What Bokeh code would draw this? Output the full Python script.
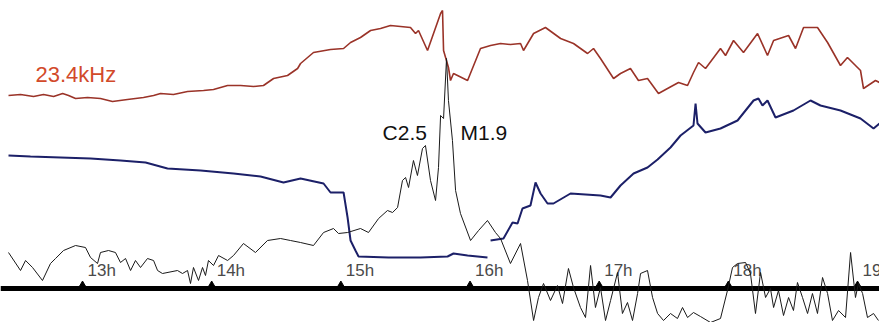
import numpy as np
from bokeh.plotting import figure
from bokeh.models import Range1d, Span
from bokeh.core.properties import value
from bokeh.embed import file_html
from bokeh.resources import INLINE

# ---- data (time in decimal hours UT, signal level in chart units, inverted scale) ----
tick_hours = [13, 14, 15, 16, 17, 18, 19]
tick_labels = ["13h", "14h", "15h", "16h", "17h", "18h", "19h"]

station_label = "23.4kHz"
flare_labels = ["C2.5", "M1.9"]

red_t = [12.427, 12.520, 12.621, 12.698, 12.776, 12.846, 12.892, 12.946, 13.039, 13.139,
         13.232, 13.348, 13.472, 13.550, 13.604, 13.704, 13.813, 13.937, 14.014, 14.123,
         14.224, 14.324, 14.401, 14.479, 14.587, 14.665, 14.688, 14.788, 14.920, 15.021,
         15.075, 15.152, 15.230, 15.307, 15.384, 15.462, 15.539, 15.578, 15.601, 15.671,
         15.772, 15.787, 15.795, 15.833, 15.849, 15.872, 15.981, 16.081, 16.159, 16.236,
         16.313, 16.391, 16.414, 16.492, 16.584, 16.701, 16.801, 16.910, 16.956, 17.010,
         17.111, 17.165, 17.242, 17.304, 17.374, 17.459, 17.529, 17.614, 17.684, 17.730,
         17.769, 17.823, 17.939, 17.978, 18.040, 18.117, 18.226, 18.303, 18.350, 18.466,
         18.520, 18.582, 18.690, 18.768, 18.868, 18.922, 19.023, 19.046, 19.139, 19.170]
red_v = [95, 94, 96, 94, 96, 93, 95, 98, 97, 98,
         101, 99, 97, 95, 93, 94, 91, 90, 89, 85,
         85, 86, 85, 78, 75, 68, 63, 52, 49, 48,
         42, 37, 30, 28, 25, 26, 27, 33, 30, 50,
         13, 10, 50, 67, 80, 73, 80, 48, 45, 43,
         44, 43, 50, 33, 27, 38, 43, 53, 48, 58,
         78, 73, 68, 80, 78, 93, 88, 82, 85, 72,
         62, 68, 48, 55, 40, 52, 33, 55, 40, 35,
         48, 27, 27, 42, 65, 57, 70, 88, 80, 82]

blue_t = [12.427, 12.597, 12.830, 13.062, 13.294, 13.488, 13.658, 13.914, 14.169, 14.378,
          14.556, 14.688, 14.866, 14.920, 15.021, 15.052, 15.075, 15.113, 15.137, 15.369,
          15.617, 15.826, 15.872, 15.981, 16.135, 16.147, 16.159, 16.259, 16.329, 16.368,
          16.406, 16.468, 16.507, 16.546, 16.600, 16.646, 16.778, 17.010, 17.088, 17.165,
          17.266, 17.374, 17.452, 17.552, 17.630, 17.730, 17.746, 17.761, 17.823, 17.939,
          18.071, 18.195, 18.233, 18.264, 18.303, 18.365, 18.504, 18.636, 18.713, 18.868,
          19.023, 19.124, 19.170]
blue_v = [155, 156, 157, 158, 160, 162, 168, 170, 173, 176,
          182, 178, 183, 192, 192, 217, 240, 250, 256, 257,
          257, 256, 253, 255, 257, np.nan, 240, 238, 222, 223,
          208, 205, 182, 193, 203, 203, 193, 195, 197, 185,
          173, 167, 159, 147, 135, 125, 103, 123, 132, 128,
          120, 100, 98, 105, 100, 117, 110, 100, 105, 110,
          118, 128, 123]

xray_t = [12.427, 12.520, 12.559, 12.613, 12.690, 12.752, 12.791, 12.853, 12.946, 13.023,
          13.062, 13.116, 13.139, 13.201, 13.255, 13.294, 13.333, 13.372, 13.410, 13.449,
          13.503, 13.550, 13.581, 13.619, 13.735, 13.774, 13.813, 13.836, 13.859, 13.898,
          13.929, 13.952, 13.975, 14.014, 14.053, 14.123, 14.169, 14.246, 14.339, 14.432,
          14.533, 14.610,
          14.688, 14.788, 14.866, 14.943, 14.982, 15.052, 15.152, 15.214, 15.292, 15.361,
          15.400, 15.439, 15.477, 15.501, 15.524, 15.562, 15.593, 15.632, 15.655, 15.694,
          15.733, 15.756, 15.772, 15.795, 15.818, 15.833, 15.864, 15.888, 15.926, 16.004,
          16.066, 16.135, 16.197, 16.236, 16.313, 16.391, 16.445, 16.492, 16.530, 16.569,
          16.623, 16.677, 16.716, 16.762, 16.801, 16.855, 16.894, 16.933, 16.971, 17.010,
          17.049, 17.088, 17.142, 17.180, 17.219, 17.258, 17.297, 17.320, 17.374, 17.413,
          17.452, 17.498, 17.552, 17.606, 17.645, 17.684, 17.730, 17.784, 17.862, 17.939,
          17.993, 18.032, 18.071, 18.133, 18.171, 18.210, 18.249, 18.288, 18.326, 18.350,
          18.388, 18.427, 18.466, 18.504, 18.535, 18.574, 18.613, 18.651, 18.690, 18.729,
          18.768, 18.806, 18.853, 18.907, 18.946, 18.984, 19.007, 19.039, 19.077, 19.124,
          19.162]
xray_v = [252, 270, 260, 267, 280, 263, 258, 250, 245, 247,
          257, 263, 252, 250, 252, 262, 258, 270, 260, 267,
          258, 260, 270, 273, 270, 273, 270, 283, 267, 280,
          267, 275, 260, 265, 255, 260, 255, 243, 252, 240,
          238, 240,
          242, 245, 232, 228, 233, 232, 228, 232, 218, 210,
          212, 207, 180, 177, 187, 160, 175, 148, 145, 180,
          200, 167, 115, 118, 58, 100, 140, 190, 213, 240,
          230, 220, 232, 238, 263, 243, 280, 320, 297, 283,
          300, 285, 303, 268, 287, 307, 317, 265, 307, 287,
          320, 300, 272, 313, 302, 320, 293, 273, 270, 297,
          313, 320, 313, 318, 307, 317, 312, 316, 322, 318,
          290, 267, 263, 262, 273, 313, 272, 297, 288, 307,
          290, 315, 297, 310, 282, 297, 313, 293, 313, 277,
          293, 320, 310, 317, 252, 297, 283, 293, 317, 313,
          320]

# ---- figure ----
p = figure(width=879, height=322, output_backend="svg", toolbar_location=None,
           x_range=Range1d(12.365, 19.170), y_range=Range1d(322, 0),
           min_border=0, x_axis_location=None, y_axis_location=None)
p.grid.visible = False
p.outline_line_color = None
p.background_fill_color = "white"
p.border_fill_color = "white"

FONT = value("Liberation Sans")

# time axis drawn inside the chart
p.add_layout(Span(location=288, dimension="width", line_color="black",
                  line_width=5, level="underlay"))
p.scatter(x=tick_hours, y=[284] * len(tick_hours), marker="triangle", size=6,
          color="black")
p.text(x=tick_hours, y=[270] * len(tick_hours), text=tick_labels, x_offset=5,
       text_baseline="alphabetic", text_align="left", text_font=FONT,
       text_font_size="17px", text_color="#4a4a4a")

# traces
p.line(red_t, red_v, line_color="#9a3328", line_width=1.6)
p.line(blue_t, np.array(blue_v, dtype=float), line_color="#1c2068", line_width=2)
p.line(xray_t, xray_v, line_color="#1a1a1a", line_width=1)

# labels
p.text(x=[12.636], y=[74], text=[station_label], text_baseline="alphabetic",
       text_font=FONT, text_font_size="22px", text_color="#d24a2a")
p.text(x=[15.323, 15.926], y=[132, 132], text=flare_labels, text_baseline="alphabetic",
       text_font=FONT, text_font_size="21px", text_color="#111111")

open("out.html", "w").write(file_html(p, INLINE))
